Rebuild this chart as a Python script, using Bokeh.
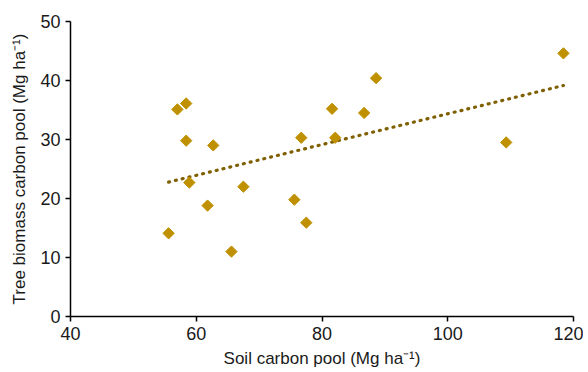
import numpy as np
from bokeh.plotting import figure
from bokeh.models import ColumnDataSource, Range1d, FixedTicker
from bokeh.embed import file_html
from bokeh.resources import INLINE

soil_carbon = [55.6, 57.0, 58.4, 58.4, 58.9, 62.7, 61.8, 67.5, 65.6, 75.6,
               76.7, 77.5, 81.6, 82.1, 86.7, 88.6, 109.3, 118.4]
tree_carbon = [14.1, 35.1, 36.1, 29.8, 22.7, 29.0, 18.8, 22.0, 11.0, 19.8,
               30.3, 15.9, 35.2, 30.3, 34.5, 40.4, 29.5, 44.6]
x_ticks = [40, 60, 80, 100, 120]
y_ticks = [0, 10, 20, 30, 40, 50]

slope, intercept = np.polyfit(soil_carbon, tree_carbon, 1)
trend_x = [min(soil_carbon), max(soil_carbon)]
trend_y = [slope * v + intercept for v in trend_x]

p = figure(frame_width=503, frame_height=295, output_backend="svg", toolbar_location=None,
           x_range=Range1d(40, 120), y_range=Range1d(0, 50),
           min_border_left=70, min_border_right=10, min_border_top=21, min_border_bottom=48)
p.outline_line_color = None
p.xgrid.visible = False
p.ygrid.visible = False

src = ColumnDataSource(dict(x=soil_carbon, y=tree_carbon))
p.line(trend_x, trend_y, line_color="#7F6000", line_width=3.2, line_dash="1 6",
       line_cap="round")
p.scatter("x", "y", source=src, marker="square", angle=np.pi / 4, size=8,
          fill_color="#BF9000", line_color="#BF9000")

for ax in (p.xaxis[0], p.yaxis[0]):
    ax.axis_line_color = "black"
    ax.axis_line_width = 1.5
    ax.major_tick_line_color = "black"
    ax.major_tick_line_width = 1.5
    ax.major_tick_out = 5
    ax.major_tick_in = 0
    ax.minor_tick_line_color = None
    ax.major_label_text_font = "Liberation Sans"
    ax.major_label_text_font_size = "18px"
    ax.major_label_text_color = "#1a1a1a"
    ax.axis_label_text_font = "Liberation Sans"
    ax.axis_label_text_font_size = "17px"
    ax.axis_label_text_font_style = "normal"
    ax.axis_label_text_color = "#1a1a1a"

p.xaxis[0].ticker = FixedTicker(ticks=x_ticks)
p.yaxis[0].ticker = FixedTicker(ticks=y_ticks)
p.xaxis[0].axis_label = "Soil carbon pool (Mg ha\u207b\u00b9)"
p.yaxis[0].axis_label = "Tree biomass carbon pool (Mg ha\u207b\u00b9)"
p.xaxis[0].axis_label_standoff = 6
p.yaxis[0].axis_label_standoff = 8

open("out.html", "w").write(file_html(p, INLINE))
